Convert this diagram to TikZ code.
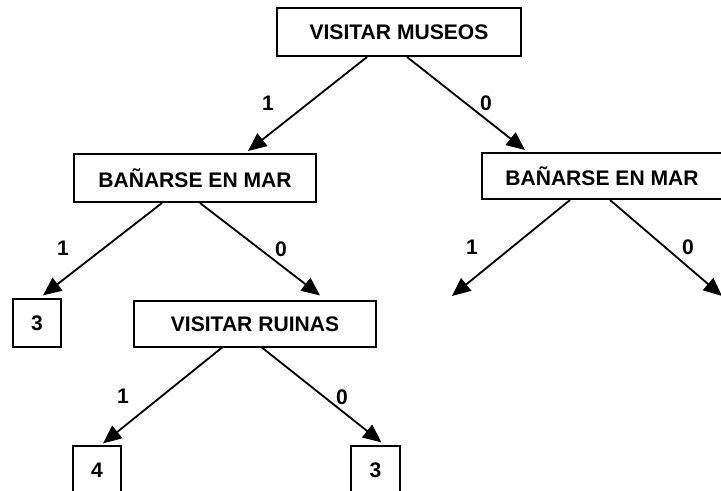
\documentclass[tikz,border=0pt]{standalone}
\usepackage{fontspec}
\setmainfont{Liberation Sans}
\usetikzlibrary{arrows.meta,calc}
\tikzset{
  dec box/.style={
    draw,
    line width=1.4pt,
    minimum width=6.05cm,
    minimum height=1.2cm,
    inner sep=0pt,
    font=\fontsize{15}{18}\selectfont\bfseries
  },
  leaf box/.style={
    dec box,
    minimum width=1.22cm,
    minimum height=1.18cm
  },
  branch/.style={
    font=\fontsize{15}{18}\selectfont\bfseries
  },
  arrow/.style={
    -{Triangle[length=0.46cm,width=0.4cm]},
    line width=1.3pt
  }
}
\begin{document}
\begin{tikzpicture}[x=0.025cm, y=-0.025cm]
  \useasboundingbox (0,0) rectangle (721,491);

  % Decision nodes
  \node[dec box, minimum width=6.1cm] (museos) at (399,32) {VISITAR MUSEOS};
  \node[dec box] (mar1) at (195,178) {BAÑARSE EN MAR};
  \node[dec box, minimum width=6cm, minimum height=1.15cm] (mar2) at (602,176) {BAÑARSE EN MAR};
  \node[dec box, minimum width=6.03cm, minimum height=1.13cm] (ruinas) at (255,324) {VISITAR RUINAS};

  % Leaves
  \node[leaf box] (hoja1) at (37,323) {3};
  \node[leaf box] (hoja2) at (97,470) {4};
  \node[leaf box] (hoja3) at (375.5,470) {3};

  % Open ends
  \coordinate (fin1) at (452,296);
  \coordinate (fin2) at (722,296);

  % Branches of VISITAR MUSEOS
  \draw[arrow] ($(museos.south)+(-32,0)$) -- ($(mar1.north)+(53,-2)$);
  \draw[arrow] ($(museos.south)+(8,0)$) -- ($(mar2.north)+(-77,-2)$);
  \node[branch] (m1) at (268,103) {1};
  \node[branch] (m0) at (486,103) {0};

  % Branches of BAÑARSE EN MAR (left)
  \draw[arrow] ($(mar1.south)+(-33,0)$) -- ($(hoja1.north)+(6,-3)$);
  \draw[arrow] ($(mar1.south)+(5,0)$) -- ($(ruinas.north)+(65,-5)$);
  \node[branch] (a1) at (63,248) {1};
  \node[branch] (a0) at (281,249) {0};

  % Branches of BAÑARSE EN MAR (right)
  \draw[arrow] ($(mar2.south)+(-32,0)$) -- (fin1);
  \draw[arrow] ($(mar2.south)+(8,0)$) -- (fin2);
  \node[branch] (b1) at (472,247) {1};
  \node[branch] (b0) at (688,247) {0};

  % Branches of VISITAR RUINAS
  \draw[arrow] ($(ruinas.south)+(-33,0)$) -- ($(hoja2.north)+(6,-2)$);
  \draw[arrow] ($(ruinas.south)+(7,0)$) -- ($(hoja3.north)+(6,-3)$);
  \node[branch] (r1) at (123,396) {1};
  \node[branch] (r0) at (342,397) {0};
\end{tikzpicture}
\end{document}
